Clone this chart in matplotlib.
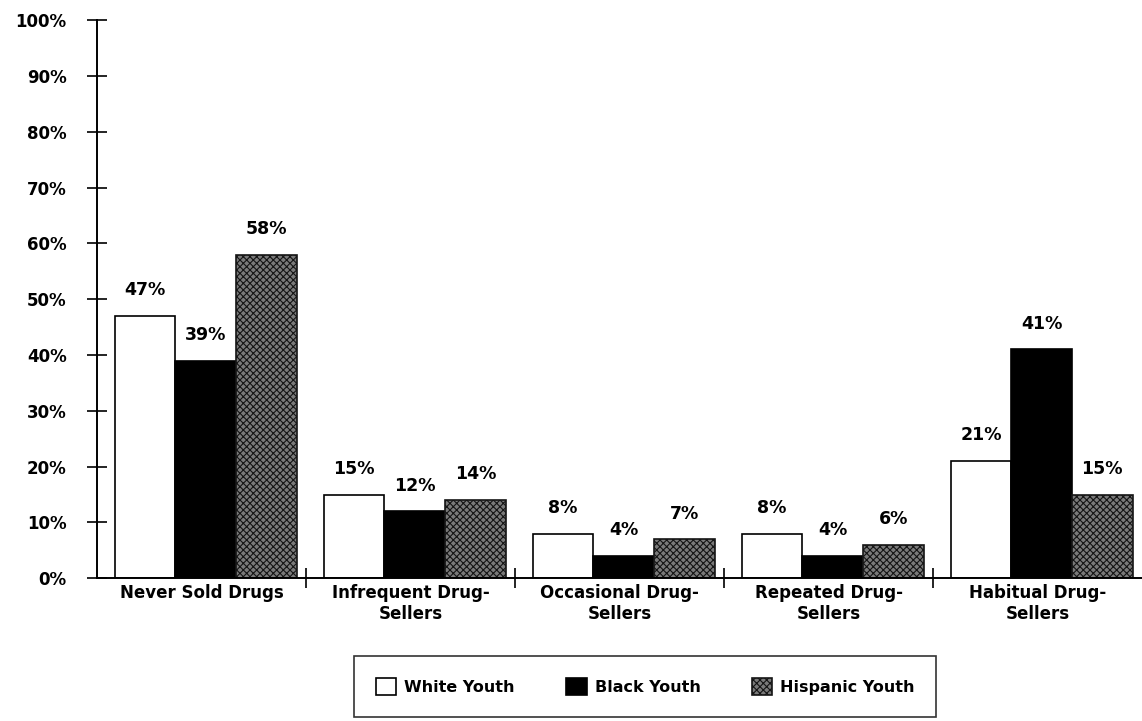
import numpy as np
import matplotlib.pyplot as plt
from matplotlib.ticker import FixedLocator, PercentFormatter

# data
categories = ["Never Sold Drugs", "Infrequent Drug-\nSellers", "Occasional Drug-\nSellers",
              "Repeated Drug-\nSellers", "Habitual Drug-\nSellers"]
white_youth = [47, 15, 8, 8, 21]
black_youth = [39, 12, 4, 4, 41]
hispanic_youth = [58, 14, 7, 6, 15]
series_names = ["White Youth", "Black Youth", "Hispanic Youth"]

plt.rcParams['font.family'] = ['DejaVu Sans']
plt.rcParams['font.weight'] = 'bold'
plt.rcParams['hatch.linewidth'] = 0.8

fig = plt.figure(figsize=(11.42, 7.21), dpi=100)
ax = fig.add_axes([0.085, 0.198, 0.915, 0.774])

x = np.arange(len(categories)) + 0.52
w = 0.29
styles = [
    dict(facecolor='white', edgecolor='black'),
    dict(facecolor='black', edgecolor='black'),
    dict(facecolor='#7a7a7a', edgecolor='#151515', hatch='xxxxx'),
]
all_vals = [white_youth, black_youth, hispanic_youth]
bars = []
for k, vals in enumerate(all_vals):
    b = ax.bar(x + (k - 1) * w, vals, w, linewidth=1.2, label=series_names[k], **styles[k])
    bars.append(b)
    # value labels
    for xi, v in zip(x + (k - 1) * w, vals):
        ax.annotate(f"{v}%", (xi, v), xytext=(0, 12), textcoords='offset points',
                    ha='center', va='bottom', fontsize=12.5, fontweight='bold')

ax.set_xlim(0, 5)
ax.set_ylim(0, 100)
ax.set_yticks(np.arange(0, 101, 10))
ax.yaxis.set_major_formatter(PercentFormatter(decimals=0))
ax.tick_params(axis='y', direction='inout', length=14, width=1.2, pad=15, labelsize=12)

ax.set_xticks(np.arange(5) + 0.5)
ax.set_xticklabels(categories, fontsize=12, fontweight='bold', linespacing=1.2)
ax.tick_params(axis='x', which='major', length=0, pad=4)
ax.xaxis.set_minor_locator(FixedLocator([1, 2, 3, 4]))
ax.tick_params(axis='x', which='minor', direction='inout', length=14, width=1.2)

for s in ['top', 'right']:
    ax.spines[s].set_visible(False)
ax.spines['left'].set_linewidth(1.4)
ax.spines['bottom'].set_linewidth(1.4)

leg = fig.legend(handles=bars, labels=series_names, ncol=3, loc='center',
                 bbox_to_anchor=(0.565, 0.048), frameon=True, fancybox=False,
                 edgecolor='black', fontsize=11.5, handlelength=1.3, handleheight=1.3,
                 columnspacing=3.2, borderpad=1.35, handletextpad=0.5)
leg.get_frame().set_linewidth(1.2)

fig.savefig("out.png", dpi=100)
